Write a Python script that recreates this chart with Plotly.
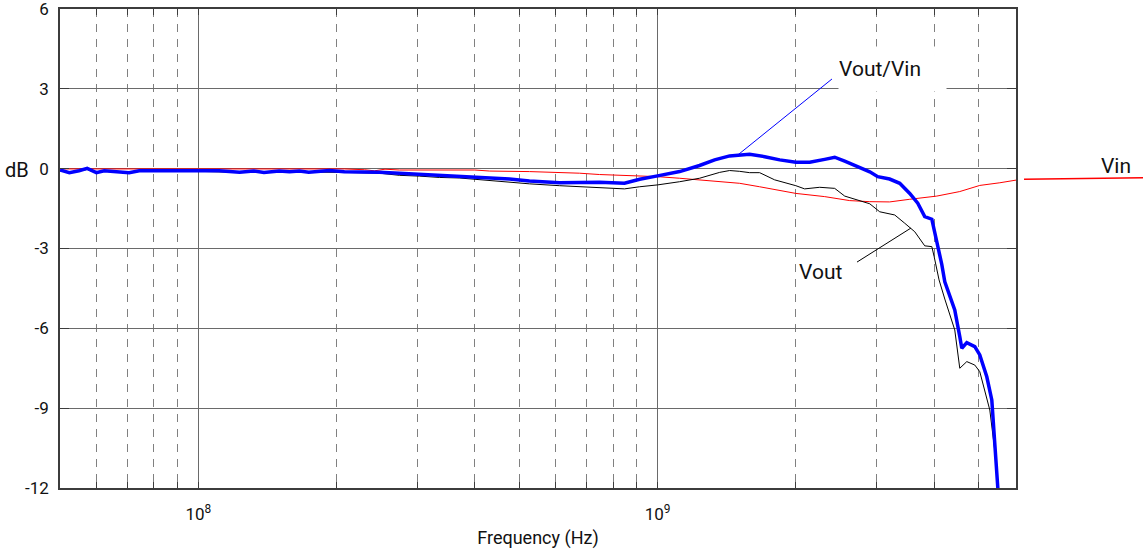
import math
import plotly.graph_objects as go

# ---------------- data ----------------
vin_freq = [5.0e7, 1.0e8, 2.08e8, 2.30e8, 2.42e8, 2.55e8, 2.74e8, 4.0e8, 4.31e8, 5.26e8,
            6.12e8, 6.76e8, 7.47e8, 9.14e8, 1.0e9, 1.117e9, 1.234e9, 1.509e9, 1.668e9,
            1.845e9, 2.0e9, 2.311e9, 2.62e9, 2.897e9, 3.2e9, 3.54e9, 4.054e9, 4.549e9,
            5.029e9, 5.56e9, 6.03e9]
vin_db = [-0.01, -0.01, -0.01, -0.04, -0.08, -0.02, -0.05, -0.05, -0.09, -0.11,
          -0.13, -0.17, -0.22, -0.27, -0.30, -0.36, -0.42, -0.55, -0.68,
          -0.83, -0.93, -1.05, -1.20, -1.24, -1.25, -1.15, -1.03, -0.86,
          -0.63, -0.53, -0.43]

vout_freq = [5.0e7, 5.24e7, 5.5e7, 5.73e7, 6.0e7, 6.24e7, 7.07e7, 7.44e7, 1.0e8, 1.23e8,
             1.32e8, 1.39e8, 1.50e8, 1.66e8, 1.83e8, 2.08e8, 2.48e8, 2.74e8, 3.03e8,
             3.35e8, 3.70e8, 3.99e8, 4.31e8, 4.76e8, 5.26e8, 6.12e8, 6.76e8, 7.47e8,
             8.47e8, 9.14e8, 1.0e9, 1.117e9, 1.234e9, 1.365e9, 1.435e9, 1.509e9, 1.586e9,
             1.668e9, 1.798e9, 2.0e9, 2.09e9, 2.254e9, 2.43e9, 2.555e9, 2.825e9, 2.897e9,
             3.045e9, 3.283e9, 3.452e9, 3.63e9, 3.816e9, 3.954e9, 4.0e9, 4.1e9, 4.22e9,
             4.436e9, 4.549e9, 4.712e9, 4.905e9, 5.029e9, 5.288e9, 5.422e9, 5.505e9]
vout_db = [-0.08, -0.15, -0.09, -0.03, -0.16, -0.10, -0.16, -0.10, -0.10, -0.14,
           -0.11, -0.15, -0.12, -0.12, -0.12, -0.14, -0.17, -0.25, -0.28,
           -0.33, -0.35, -0.40, -0.44, -0.51, -0.57, -0.64, -0.68, -0.71,
           -0.76, -0.68, -0.61, -0.49, -0.36, -0.14, -0.07, -0.10, -0.15,
           -0.15, -0.42, -0.64, -0.76, -0.70, -0.74, -1.03, -1.24, -1.32,
           -1.62, -1.74, -2.05, -2.37, -2.90, -2.93, -3.30, -4.18, -4.90,
           -6.06, -7.50, -7.25, -7.38, -7.63, -9.07, -10.6, -12.0]

ratio_freq = [5.0e7, 5.24e7, 5.5e7, 5.73e7, 6.0e7, 6.24e7, 7.07e7, 7.44e7, 1.0e8, 1.11e8,
              1.23e8, 1.32e8, 1.39e8, 1.50e8, 1.58e8, 1.66e8, 1.74e8, 1.83e8, 1.93e8,
              2.08e8, 2.48e8, 2.74e8, 3.03e8, 3.35e8, 3.70e8, 3.99e8, 4.31e8, 4.76e8,
              5.26e8, 5.67e8, 6.12e8, 6.76e8, 7.47e8, 8.47e8, 9.14e8, 1.0e9, 1.117e9,
              1.234e9, 1.331e9, 1.435e9, 1.509e9, 1.586e9, 1.711e9, 1.845e9, 2.0e9,
              2.144e9, 2.311e9, 2.43e9, 2.555e9, 2.755e9, 2.897e9, 3.015e9, 3.2e9,
              3.367e9, 3.54e9, 3.685e9, 3.816e9, 3.954e9, 4.054e9, 4.157e9, 4.22e9,
              4.327e9, 4.436e9, 4.549e9, 4.595e9, 4.712e9, 4.905e9, 5.029e9, 5.209e9,
              5.341e9, 5.422e9, 5.505e9]
ratio_db = [-0.05, -0.15, -0.08, 0.01, -0.15, -0.08, -0.15, -0.08, -0.08, -0.08,
            -0.13, -0.09, -0.14, -0.09, -0.12, -0.09, -0.13, -0.09, -0.07,
            -0.12, -0.13, -0.17, -0.21, -0.26, -0.27, -0.30, -0.36, -0.39,
            -0.46, -0.50, -0.53, -0.52, -0.51, -0.55, -0.40, -0.27, -0.11,
            0.12, 0.33, 0.48, 0.51, 0.54, 0.45, 0.33, 0.24,
            0.24, 0.35, 0.43, 0.28, 0.05, -0.12, -0.30, -0.39,
            -0.55, -0.93, -1.30, -1.80, -1.90, -2.70, -3.60, -4.25,
            -4.81, -5.31, -6.31, -6.75, -6.54, -6.69, -7.00, -7.82,
            -8.69, -10.3, -12.0]

y_ticks = [-12, -9, -6, -3, 0, 3, 6]
y_tick_text = ["-12", "-9", "-6", "-3", "0", "3", "6"]
x_major = [1e8, 1e9]
x_major_text = ["10<sup>8</sup>", "10<sup>9</sup>"]
x_minor = [6e7, 7e7, 8e7, 9e7,
           2e8, 3e8, 4e8, 5e8, 6e8, 7e8, 8e8, 9e8,
           2e9, 3e9, 4e9, 5e9]
x_range = [5.0e7, 6.03e9]

FONT = "Roboto, 'Liberation Sans', sans-serif"
AX = "#3c3c3c"
GRID = "#6a6a6a"
TXT = "#111111"

fig = go.Figure()
fig.add_trace(go.Scatter(x=vin_freq, y=vin_db, mode="lines", name="Vin",
                         line=dict(color="#ff0000", width=1)))
fig.add_trace(go.Scatter(x=vout_freq, y=vout_db, mode="lines", name="Vout",
                         line=dict(color="#000000", width=1)))
fig.add_trace(go.Scatter(x=ratio_freq, y=ratio_db, mode="lines", name="Vout/Vin",
                         line=dict(color="#0000ff", width=3.5)))

fig.update_layout(
    width=1143, height=555,
    margin=dict(l=60, r=127, t=9, b=67),
    paper_bgcolor="white", plot_bgcolor="white",
    showlegend=False,
    font=dict(family=FONT, size=17, color=TXT),
    xaxis=dict(
        type="log",
        range=[math.log10(x_range[0]), math.log10(x_range[1])],
        tickmode="array", tickvals=x_major, ticktext=x_major_text,
        ticks="inside", ticklen=6, tickcolor=AX, tickwidth=1,
        showline=True, linecolor=AX, linewidth=1.5, mirror="ticks",
        showgrid=True, gridcolor=GRID, gridwidth=1,
        minor=dict(tickmode="array", tickvals=x_minor, ticks="inside", ticklen=6,
                   tickcolor=AX, showgrid=True, gridcolor="#808080",
                   griddash="8px,7px", gridwidth=1),
        tickfont=dict(size=17, family=FONT, color=TXT),
        ticklabelstandoff=10,
        title=dict(text="Frequency (Hz)", font=dict(size=18, family=FONT, color=TXT),
                   standoff=8),
        automargin=False, zeroline=False,
    ),
    yaxis=dict(
        range=[-12, 6], tickmode="array", tickvals=y_ticks, ticktext=y_tick_text,
        ticks="inside", ticklen=9, tickcolor=AX, tickwidth=1,
        showline=True, linecolor=AX, linewidth=1.5, mirror="ticks",
        showgrid=True, gridcolor=GRID, gridwidth=1, zeroline=False,
        tickfont=dict(size=17, family=FONT, color=TXT),
        ticklabelstandoff=6, ticklabeloverflow="allow",
        automargin=False,
    ),
)

# leader lines (x in paper fraction of plot width, y in dB)
shapes = [
    dict(type="line", xref="paper", yref="y", x0=0.7092, y0=0.52, x1=0.8075, y1=3.37,
         line=dict(color="#0000ff", width=1)),
    dict(type="line", xref="paper", yref="y", x0=0.8902, y0=-2.23, x1=0.8337, y1=-3.51,
         line=dict(color="#000000", width=1)),
    dict(type="line", xref="paper", yref="y", x0=1.0084, y0=-0.40, x1=1.1350, y1=-0.34,
         line=dict(color="#ff0000", width=1.5)),
]
fig.update_layout(shapes=shapes)

LBL = dict(size=21, family=FONT, color=TXT)
anns = [
    dict(x=0.8138, y=3.75, xref="paper", yref="y", xanchor="left", yanchor="middle",
         text="Vout/Vin", showarrow=False, font=LBL, bgcolor="white", borderpad=0,
         width=107, height=44, align="left"),
    dict(x=0.7709, y=-3.89, xref="paper", yref="y", xanchor="left", yanchor="middle",
         text="Vout", showarrow=False, font=LBL),
    dict(x=1.0868, y=0.10, xref="paper", yref="y", xanchor="left", yanchor="middle",
         text="Vin", showarrow=False, font=LBL),
    dict(x=-0.0596, y=-0.05, xref="paper", yref="y", xanchor="left", yanchor="middle",
         text="dB", showarrow=False, font=dict(size=20, family=FONT, color=TXT)),
]
fig.update_layout(annotations=anns)

fig.write_html("out.html", config={"displayModeBar": False},
               post_script="document.body.style.margin='0';")
